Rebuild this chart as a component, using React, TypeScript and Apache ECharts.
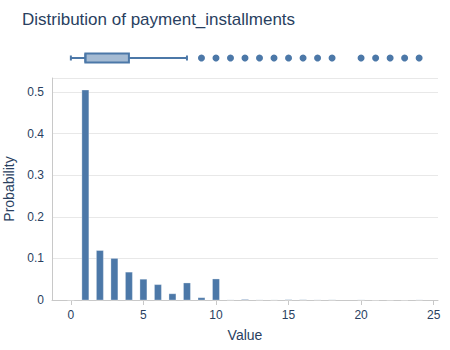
import React, { useEffect, useRef } from "react";
import * as echarts from "echarts";

const values = [0, 1, 2, 3, 4, 5, 6, 7, 8, 9, 10, 11, 12, 13, 14, 15, 16, 17, 18, 20, 21, 22, 23, 24];
const probabilities = [
  0.00002, 0.505, 0.119, 0.1, 0.067, 0.05, 0.037, 0.015, 0.041, 0.0055, 0.0506, 0.0002, 0.0013,
  0.0002, 0.00015, 0.0007, 0.0005, 0.0002, 0.0003, 0.0002, 0.00003, 0.00001, 0.00001, 0.0002,
];
// min, q1, median, q3, max (whisker)
const boxStats = [0, 1, 1, 4, 8];
const outliers = [9, 10, 11, 12, 13, 14, 15, 16, 17, 18, 20, 21, 22, 23, 24];
const xTicks = [0, 5, 10, 15, 20, 25];
const yTicks = [0, 0.1, 0.2, 0.3, 0.4, 0.5];

const BLUE = "#4c78a8";
const TEXT = "#2a3f5f";
const FONT = "Liberation Sans, Arial, sans-serif";
const BAR_UNITS = 0.48;

export default function App() {
  const ref = useRef<HTMLDivElement>(null);
  useEffect(() => {
    if (!ref.current) return;
    const chart = echarts.init(ref.current, null, { renderer: "svg" });
    const xMin = -1.3;
    const xMax = 25.3;
    chart.setOption({
      animation: false,
      textStyle: { fontFamily: FONT },
      title: {
        text: "Distribution of payment_installments",
        left: 17,
        top: 6,
        textStyle: { fontFamily: FONT, fontSize: 17, fontWeight: "normal", color: TEXT },
      },
      grid: [
        { left: 52, right: 12, top: 48, height: 20, outerBoundsMode: "none", containLabel: false },
        { left: 52, right: 12, top: 78, bottom: 50, outerBoundsMode: "none", containLabel: false },
      ],
      xAxis: [
        {
          gridIndex: 0,
          type: "value",
          min: xMin,
          max: xMax,
          show: false,
        },
        {
          gridIndex: 1,
          type: "value",
          min: xMin,
          max: xMax,
          name: "Value",
          nameLocation: "middle",
          nameGap: 28,
          nameTextStyle: { fontFamily: FONT, fontSize: 14, color: TEXT },
          axisLine: { show: true, onZero: false, lineStyle: { color: "#c8c8c8" } },
          axisTick: { show: true, length: 5, lineStyle: { color: "#c8c8c8" }, customValues: xTicks },
          axisLabel: { customValues: xTicks, fontFamily: FONT, fontSize: 12, color: TEXT, margin: 9 },
          splitLine: { show: false },
        },
      ],
      yAxis: [
        {
          gridIndex: 0,
          type: "value",
          min: -1,
          max: 1,
          show: false,
        },
        {
          gridIndex: 1,
          type: "value",
          min: 0,
          max: 0.534,
          name: "Probability",
          nameLocation: "middle",
          nameGap: 31,
          nameTextStyle: { fontFamily: FONT, fontSize: 14, color: TEXT },
          axisLine: { show: true, onZero: false, lineStyle: { color: "#c8c8c8" } },
          axisTick: { show: false },
          axisLabel: { customValues: yTicks, fontFamily: FONT, fontSize: 12, color: TEXT, margin: 8 },
          splitLine: { show: true, lineStyle: { color: "#e8e8e8" } },
        },
      ],
      series: [
        {
          type: "custom",
          xAxisIndex: 1,
          yAxisIndex: 1,
          data: values.map((v, i) => [v, probabilities[i]]),
          encode: { x: 0, y: 1 },
          renderItem: (params: any, api: any) => {
            const x = api.value(0);
            const y = api.value(1);
            const tl = api.coord([x - BAR_UNITS / 2, y]);
            const br = api.coord([x + BAR_UNITS / 2, 0]);
            return {
              type: "rect",
              shape: { x: tl[0], y: tl[1], width: br[0] - tl[0], height: br[1] - tl[1] },
              style: { fill: BLUE, stroke: "#ffffff", lineWidth: 0.3 },
            };
          },
        },
        {
          type: "custom",
          xAxisIndex: 0,
          yAxisIndex: 0,
          data: [boxStats],
          renderItem: (params: any, api: any) => {
            const mn = api.coord([api.value(0), 0]);
            const q1 = api.coord([api.value(1), 0]);
            const md = api.coord([api.value(2), 0]);
            const q3 = api.coord([api.value(3), 0]);
            const mx = api.coord([api.value(4), 0]);
            const cy = mn[1];
            const bh = 9;
            const ch = 2.5;
            const stroke = { stroke: BLUE, lineWidth: 2 };
            return {
              type: "group",
              children: [
                { type: "line", shape: { x1: mn[0], y1: cy, x2: q1[0], y2: cy }, style: stroke },
                { type: "line", shape: { x1: q3[0], y1: cy, x2: mx[0], y2: cy }, style: stroke },
                { type: "line", shape: { x1: mn[0], y1: cy - ch, x2: mn[0], y2: cy + ch }, style: stroke },
                { type: "line", shape: { x1: mx[0], y1: cy - ch, x2: mx[0], y2: cy + ch }, style: stroke },
                {
                  type: "rect",
                  shape: { x: q1[0], y: cy - bh / 2, width: q3[0] - q1[0], height: bh },
                  style: { fill: "rgba(76,120,168,0.5)", stroke: BLUE, lineWidth: 2 },
                },
                { type: "line", shape: { x1: md[0], y1: cy - bh / 2, x2: md[0], y2: cy + bh / 2 }, style: stroke },
              ],
            };
          },
        },
        {
          type: "scatter",
          xAxisIndex: 0,
          yAxisIndex: 0,
          data: outliers.map((v) => [v, 0]),
          symbolSize: 7,
          itemStyle: { color: BLUE, opacity: 1 },
        },
      ],
    });
    return () => chart.dispose();
  }, []);
  return <div ref={ref} style={{ position: "absolute", left: 0, top: 0, width: 450, height: 350 }} />;
}
